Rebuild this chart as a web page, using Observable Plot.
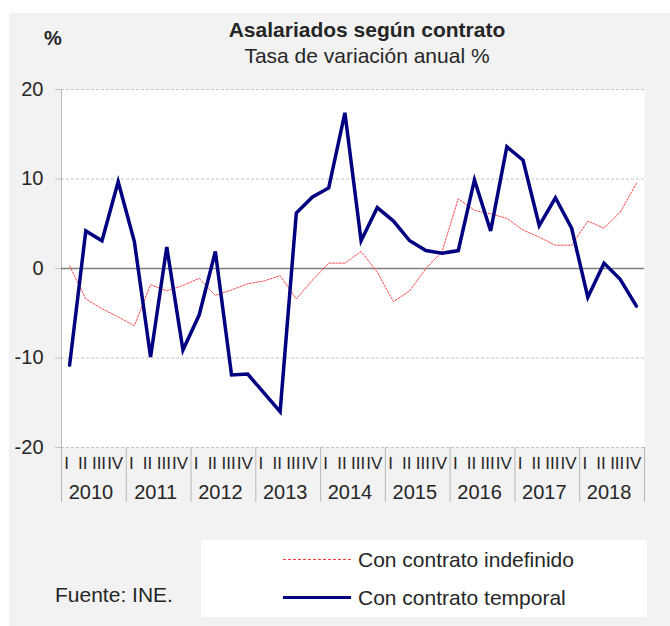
<!DOCTYPE html>
<html>
<head>
<meta charset="utf-8">
<script src="https://cdn.jsdelivr.net/npm/d3@7"></script>
<script src="https://cdn.jsdelivr.net/npm/@observablehq/plot@0.6"></script>
<style>
  html, body { margin: 0; padding: 0; background: #ffffff; }
  body { width: 670px; height: 626px; position: relative; overflow: hidden;
         font-family: "Liberation Sans", Arial, sans-serif; color: #262626; }
  .abs { position: absolute; white-space: nowrap; }
  #bg { left: 9px; top: 13px; width: 661px; height: 613px; background: #f2f2f2; }
  #title { top: 19px; left: 0; width: 734px; text-align: center; font-size: 21px; line-height: 21px; font-weight: bold; }
  #subtitle { top: 45px; left: 0; width: 734px; text-align: center; font-size: 21px; line-height: 21px; }
  #unit { top: 28px; left: 44px; font-size: 20px; line-height: 20px; font-weight: bold; }
  #chart { left: 0; top: 60px; }
  #legend { left: 201px; top: 540px; width: 446px; height: 77px; background: #ffffff; }
  .sw { position: absolute; left: 82px; width: 68px; height: 0; }
  .lt { position: absolute; left: 157px; font-size: 21px; line-height: 21px; }
  #source { left: 55px; top: 584px; font-size: 21px; line-height: 21px; }
</style>
</head>
<body>
<div id="bg" class="abs"></div>
<div id="unit" class="abs">%</div>
<div id="title" class="abs">Asalariados según contrato</div>
<div id="subtitle" class="abs">Tasa de variación anual %</div>
<div id="chart" class="abs"></div>
<div id="legend" class="abs">
  <div class="sw" style="top:19px;border-top:1px dashed #ff3b3b;"></div>
  <div class="lt" style="top:9px;">Con contrato indefinido</div>
  <div class="sw" style="top:56px;border-top:3.5px solid #000080;"></div>
  <div class="lt" style="top:47px;">Con contrato temporal</div>
</div>
<div id="source" class="abs">Fuente: INE.</div>
<script>
const years = [2010, 2011, 2012, 2013, 2014, 2015, 2016, 2017, 2018];
const quarterLabels = ["I", "II", "III", "IV"];
const yTicks = [-20, -10, 0, 10, 20];

// Con contrato temporal (Tasa de variación anual %)
const temporal = [
  -10.8, 4.2, 3.1, 9.7,
  3.0, -9.9, 2.4, -9.1,
  -5.2, 1.9, -11.9, -11.8,
  -13.9, -16.0, 6.2, 8.0,
  9.0, 17.4, 3.1, 6.8,
  5.3, 3.1, 2.0, 1.7,
  2.0, 9.9, 4.2, 13.6,
  12.1, 4.8, 7.9, 4.5,
  -3.2, 0.6, -1.2, -4.2
];

// Con contrato indefinido
const indefinido = [
  0.3, -3.4, -4.5, -5.4,
  -6.4, -1.8, -2.5, -1.9,
  -1.1, -3.0, -2.4, -1.7,
  -1.4, -0.8, -3.4, -1.3,
  0.6, 0.6, 1.9, -0.4,
  -3.7, -2.5, 0.0, 1.9,
  7.8, 6.5, 6.1, 5.6,
  4.3, 3.5, 2.6, 2.6,
  5.3, 4.5, 6.3, 9.5
];

const rows = years.flatMap((yr, yi) => quarterLabels.map((q, qi) => {
  const i = yi * quarterLabels.length + qi;
  return {pos: i + 0.5, quarter: q, year: yr, temporal: temporal[i], indefinido: indefinido[i]};
}));
const nQ = rows.length;
const yearRows = years.map((yr, yi) => ({year: yr, pos: yi * 4 + 2}));
const yearBounds = d3.range(0, nQ + 1, 4);
const grid = yTicks.filter(d => d !== 0);

const chart = Plot.plot({
  width: 670,
  height: 460,
  marginLeft: 61,
  marginRight: 26,
  marginTop: 29,
  marginBottom: 73,
  style: {fontFamily: "'Liberation Sans', Arial, sans-serif", background: "transparent", color: "#262626", overflow: "visible"},
  x: {domain: [0, nQ], axis: null},
  y: {domain: [d3.min(yTicks), d3.max(yTicks)], axis: null},
  marks: [
    Plot.frame({fill: "#ffffff", stroke: "none"}),
    Plot.ruleY(grid, {stroke: "#c4c4c4", strokeDasharray: "3,2", strokeWidth: 1}),
    Plot.axisY({ticks: yTicks, tickSize: 6, tickPadding: 12, fontSize: 20, tickFormat: d => String(d), stroke: "#c4c4c4", fill: "#262626", label: null}),
    Plot.ruleX([0], {stroke: "#b8b8b8", strokeWidth: 1}),
    Plot.axisX({ticks: yearBounds, tickSize: 55, tickFormat: () => "", stroke: "#b8b8b8", label: null}),
    Plot.ruleY([0], {stroke: "#7f7f7f", strokeWidth: 1.5}),
    Plot.text(rows, {x: "pos", text: "quarter", frameAnchor: "bottom", lineAnchor: "bottom", dy: 21, dx: -3, fontSize: 17, fill: "#262626"}),
    Plot.text(yearRows, {x: "pos", text: d => String(d.year), frameAnchor: "bottom", lineAnchor: "bottom", dy: 51, dx: -3, fontSize: 20, fill: "#262626"}),
    Plot.line(rows, {x: "pos", y: "indefinido", stroke: "#ff4d4d", strokeWidth: 1, strokeDasharray: "2,1.5"}),
    Plot.line(rows, {x: "pos", y: "temporal", stroke: "#000080", strokeWidth: 3.5, strokeLinejoin: "miter", strokeMiterlimit: 4})
  ]
});
document.getElementById("chart").appendChild(chart);
</script>
</body>
</html>
